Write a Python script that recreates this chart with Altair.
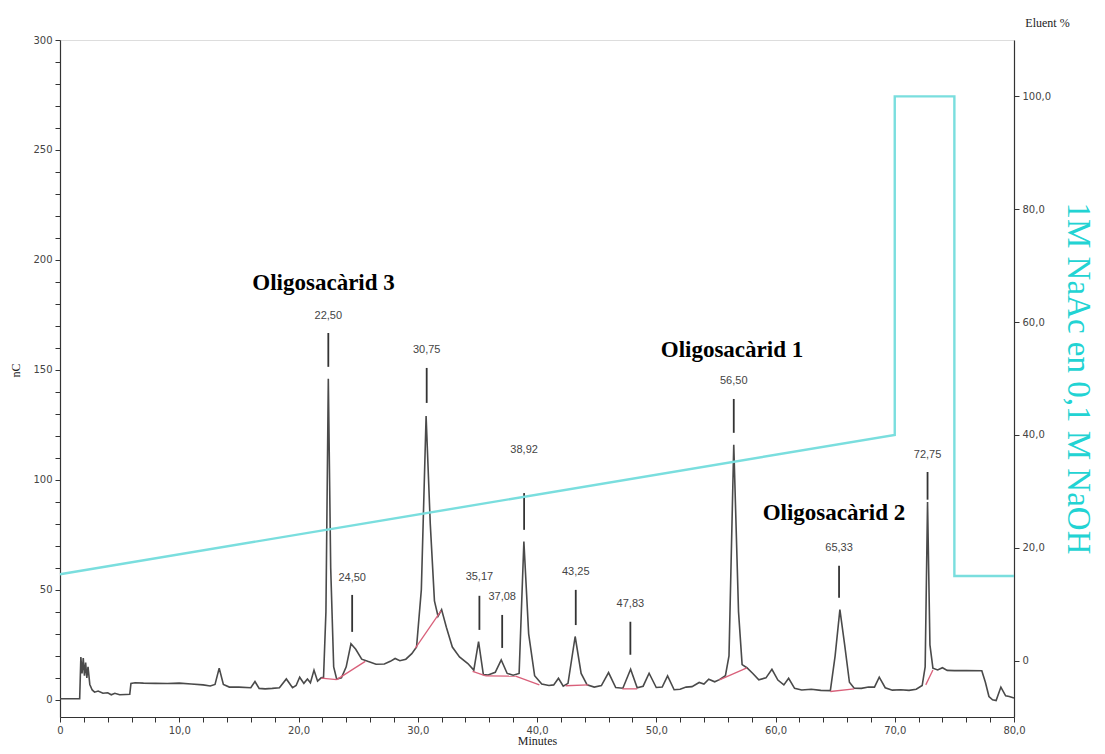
import altair as alt
import pandas as pd

# ---- chromatogram trace (minutes, nC) ----
time_min = [0, 1.65, 1.75, 1.85, 1.95, 2.05, 2.15, 2.25, 2.35, 2.5, 2.7, 2.9, 3.2, 3.6, 4.0, 4.3, 4.6, 5.0, 5.5,
            5.85, 5.95, 6.3, 7, 8, 9, 10, 11, 12, 12.6, 13.0, 13.35, 13.7, 14.2, 15, 16.0, 16.35, 16.7, 17.2,
            17.8, 18.4, 18.98, 19.5, 19.8, 20.1, 20.45, 20.75, 21.0, 21.3, 21.6, 21.9, 22.1, 22.3, 22.5, 22.7,
            22.95, 23.2, 23.6, 24.0, 24.4, 24.8, 25.3, 25.8, 26.5, 27.2, 27.7, 28.1, 28.5, 29.0, 29.5, 29.9,
            30.3, 30.7, 31.05, 31.4, 31.7, 32.0, 32.4, 32.9, 33.5, 34.2, 34.7, 35.1, 35.5, 35.9, 36.5, 37.0,
            37.5, 38.0, 38.5, 38.9, 39.3, 39.8, 40.4, 41.0, 41.4, 41.8, 42.2, 42.6, 43.2, 43.7, 44.2, 44.8,
            45.4, 46.0, 46.6, 47.2, 47.85, 48.4, 48.9, 49.4, 50.0, 50.5, 50.95, 51.5, 52.0, 52.5, 53.0, 53.6,
            54.0, 54.4, 54.9, 55.3, 55.8, 56.1, 56.5, 56.9, 57.2, 57.6, 58.1, 58.6, 59.2, 59.7, 60.2, 60.7,
            61.1, 61.6, 62.2, 63.0, 63.8, 64.6, 65.0, 65.4, 65.8, 66.2, 66.6, 67.2, 67.8, 68.3, 68.7, 69.2,
            69.8, 70.5, 71.2, 71.8, 72.3, 72.55, 72.75, 72.95, 73.2, 73.6, 74.0, 74.4, 75, 76, 77.3, 77.6,
            77.9, 78.2, 78.5, 78.9, 79.3, 79.6, 80.0]
signal_nc = [0.5, 0.5, 19.5, 12, 19, 11, 17, 10, 15, 7, 4.5, 3.5, 4, 3, 3.2, 2.3, 3.0, 2.3, 2.4,
             2.5, 7.5, 7.8, 7.6, 7.5, 7.4, 7.6, 7.2, 6.8, 6.3, 7, 14.4, 7, 5.8, 5.8, 5.5, 8.3, 5.2, 5,
             5.2, 5.5, 9.5, 5.5, 6.5, 10.3, 7.5, 9.5, 7.8, 13.5, 8.5, 10, 10.2, 40, 146, 60,
             15, 9.5, 10, 15, 25.5, 23, 18.5, 17.5, 16.2, 16.3, 17.5, 18.8, 17.8, 18.5, 21, 24,
             50, 129, 80, 45, 38, 41, 33, 24, 19.5, 16.5, 13.5, 26.5, 11.5, 11.3, 12.5, 18.2,
             12, 11.2, 12, 72, 30, 11, 7.2, 6.5, 6.8, 9.8, 6.2, 7.5, 28.8, 12, 6.8, 5.8,
             6.5, 12.4, 5.6, 5.3, 13.9, 5.5, 6.2, 12.1, 5.6, 5.8, 10.9, 4.6, 4.8, 5.8, 6, 7.9,
             7.2, 9.4, 8.2, 9.2, 11, 20, 116, 40, 16, 14.6, 12, 9.1, 10, 13.9, 9, 6.8,
             9.8, 5.2, 4.5, 4.8, 4.3, 4.2, 20, 41, 25, 8, 5.3, 5.2, 5.8, 5.8, 10.3, 5.5,
             4.4, 4.6, 4.3, 4.8, 6.5, 15, 90, 25, 14.4, 13.6, 14.6, 13.4, 13.3, 13.3, 13.2, 8,
             1.5, 0, -0.3, 5.8, 1.8, 1.5, 0.8]

# ---- integration baselines (red) ----
base_t1 = [21.9, 23.2, 29.8, 34.6, 35.7, 38.2, 42.4, 47.15, 55.3, 64.6, 72.6]
base_v1 = [9.9, 9.2, 23.5, 12.9, 10.9, 10.8, 6.4, 5.0, 9.1, 3.8, 6.8]
base_t2 = [23.2, 25.6, 31.95, 35.7, 38.2, 40.2, 44.3, 48.4, 57.6, 66.6, 73.2]
base_v2 = [9.2, 17.5, 40.5, 10.9, 10.8, 6.8, 6.8, 5.0, 14.5, 5.0, 13.6]

# ---- peak markers ----
peak_t = [22.50, 24.50, 30.75, 35.17, 37.08, 38.92, 43.25, 47.83, 56.50, 65.33, 72.75]
peak_label = ["22,50", "24,50", "30,75", "35,17", "37,08", "38,92", "43,25", "47,83", "56,50", "65,33", "72,75"]
peak_label_v = [174.5, 55.5, 159, 55.9, 46.8, 113.6, 58.2, 43.6, 145, 69, 111.4]
peak_top = [166.8, 47.7, 150.9, 47.3, 38.6, 94, 50, 35.5, 136.8, 61, 103.6]
peak_bot = [151.4, 30.9, 135, 31.8, 23.6, 77.3, 34, 20.5, 121.4, 46.4, 91]

# ---- annotations ----
annot_text = ["Oligosacàrid 3", "Oligosacàrid 1", "Oligosacàrid 2"]
annot_t = [22.1, 56.35, 64.9]
annot_v = [189.5, 159, 85]

# ---- eluent gradient (%) ----
grad_t = [0, 70, 70, 75, 75, 80]
grad_pct = [15.3, 40, 100, 100, 15, 15]

trace_df = pd.DataFrame({"t": time_min, "nc": signal_nc})
base_df = pd.DataFrame({"t1": base_t1, "v1": base_v1, "t2": base_t2, "v2": base_v2})
peak_df = pd.DataFrame({"t": peak_t, "label": peak_label, "lv": peak_label_v,
                        "top": peak_top, "bot": peak_bot})
annot_df = pd.DataFrame({"text": annot_text, "t": annot_t, "v": annot_v})
grad_df = pd.DataFrame({"t": grad_t, "pct": grad_pct, "i": list(range(len(grad_t)))})

x_scale = alt.Scale(domain=[0, 80], nice=False, zero=False)
yl_scale = alt.Scale(domain=[-7.8, 300], nice=False, zero=False)
yr_scale = alt.Scale(domain=[-10, 110], nice=False, zero=False)

AX = dict(grid=False, domainColor="#333333", tickColor="#333333", labelColor="#444444",
          labelFont="DejaVu Sans", labelFontSize=10, tickSize=5, domainWidth=1.2,
          titleFont="Liberation Serif", titleFontSize=12, titleFontWeight="normal", titleColor="#222222")

x_axis = alt.Axis(values=list(range(0, 81, 2)),
                  labelExpr="datum.value == 0 ? '0' : (datum.value % 10 == 0 ? replace(format(datum.value, '.1f'), '.', ',') : '')",
                  title="Minutes", titleY=23, titleBaseline="middle", labelPadding=3, labelFlush=False, **AX)
yl_axis = alt.Axis(values=list(range(0, 301, 10)),
                   labelExpr="datum.value % 50 == 0 ? format(datum.value, 'd') : ''",
                   title="nC", titleX=-45, titleY=330, titleAngle=-90, titleBaseline="middle",
                   labelPadding=3, **AX)
yr_axis = alt.Axis(orient="right", values=[0, 20, 40, 60, 80, 100],
                   labelExpr="datum.value == 0 ? '0' : replace(format(datum.value, '.1f'), '.', ',')",
                   title="Eluent %", titleAngle=0, titleX=33, titleY=-18, titleAlign="center",
                   titleBaseline="middle", labelPadding=3, **AX)


def X(field):
    return alt.X(field, scale=x_scale, axis=x_axis)


def YL(field):
    return alt.Y(field, scale=yl_scale, axis=yl_axis)


trace = alt.Chart(trace_df).mark_line(color="#4a4a4a", strokeWidth=1.6, interpolate="linear").encode(
    x=X("t:Q"), y=YL("nc:Q"),
)
baselines = alt.Chart(base_df).mark_rule(color="#d9607a", strokeWidth=1.3).encode(
    x=X("t1:Q"), x2="t2:Q", y=YL("v1:Q"), y2="v2:Q",
)
markers = alt.Chart(peak_df).mark_rule(color="#333333", strokeWidth=1.8).encode(
    x=X("t:Q"), y=YL("top:Q"), y2="bot:Q",
)
peak_labels = alt.Chart(peak_df).mark_text(font="Liberation Sans", fontSize=11, color="#444444",
                                           align="center", baseline="middle").encode(
    x=X("t:Q"), y=YL("lv:Q"), text="label:N",
)
annots = alt.Chart(annot_df).mark_text(font="Liberation Serif", fontSize=23, fontWeight="bold",
                                       color="#000000", align="center", baseline="middle").encode(
    x=X("t:Q"), y=YL("v:Q"), text="text:N",
)
left = alt.layer(trace, baselines, markers, peak_labels, annots)

gradient = alt.Chart(grad_df).mark_line(color="#7adede", strokeWidth=2.4).encode(
    x=X("t:Q"),
    y=alt.Y("pct:Q", scale=yr_scale, axis=yr_axis),
    order=alt.Order("i:Q"),
)

chart = alt.layer(left, gradient).resolve_scale(y="independent").properties(
    width=954, height=677,
    autosize=alt.AutoSizeParams(type="none"),
    padding={"left": 52, "top": 32, "right": 83, "bottom": 29},
    title=alt.TitleParams(text="1M NaAc en 0,1 M NaOH", orient="right", anchor="middle", frame="group",
                          offset=-8, fontSize=33, font="Liberation Serif", fontWeight="normal",
                          color="#22d3d3"),
).configure_view(strokeWidth=0).configure(background="white")

chart.save("out.html", embed_options={"renderer": "svg", "actions": False})
